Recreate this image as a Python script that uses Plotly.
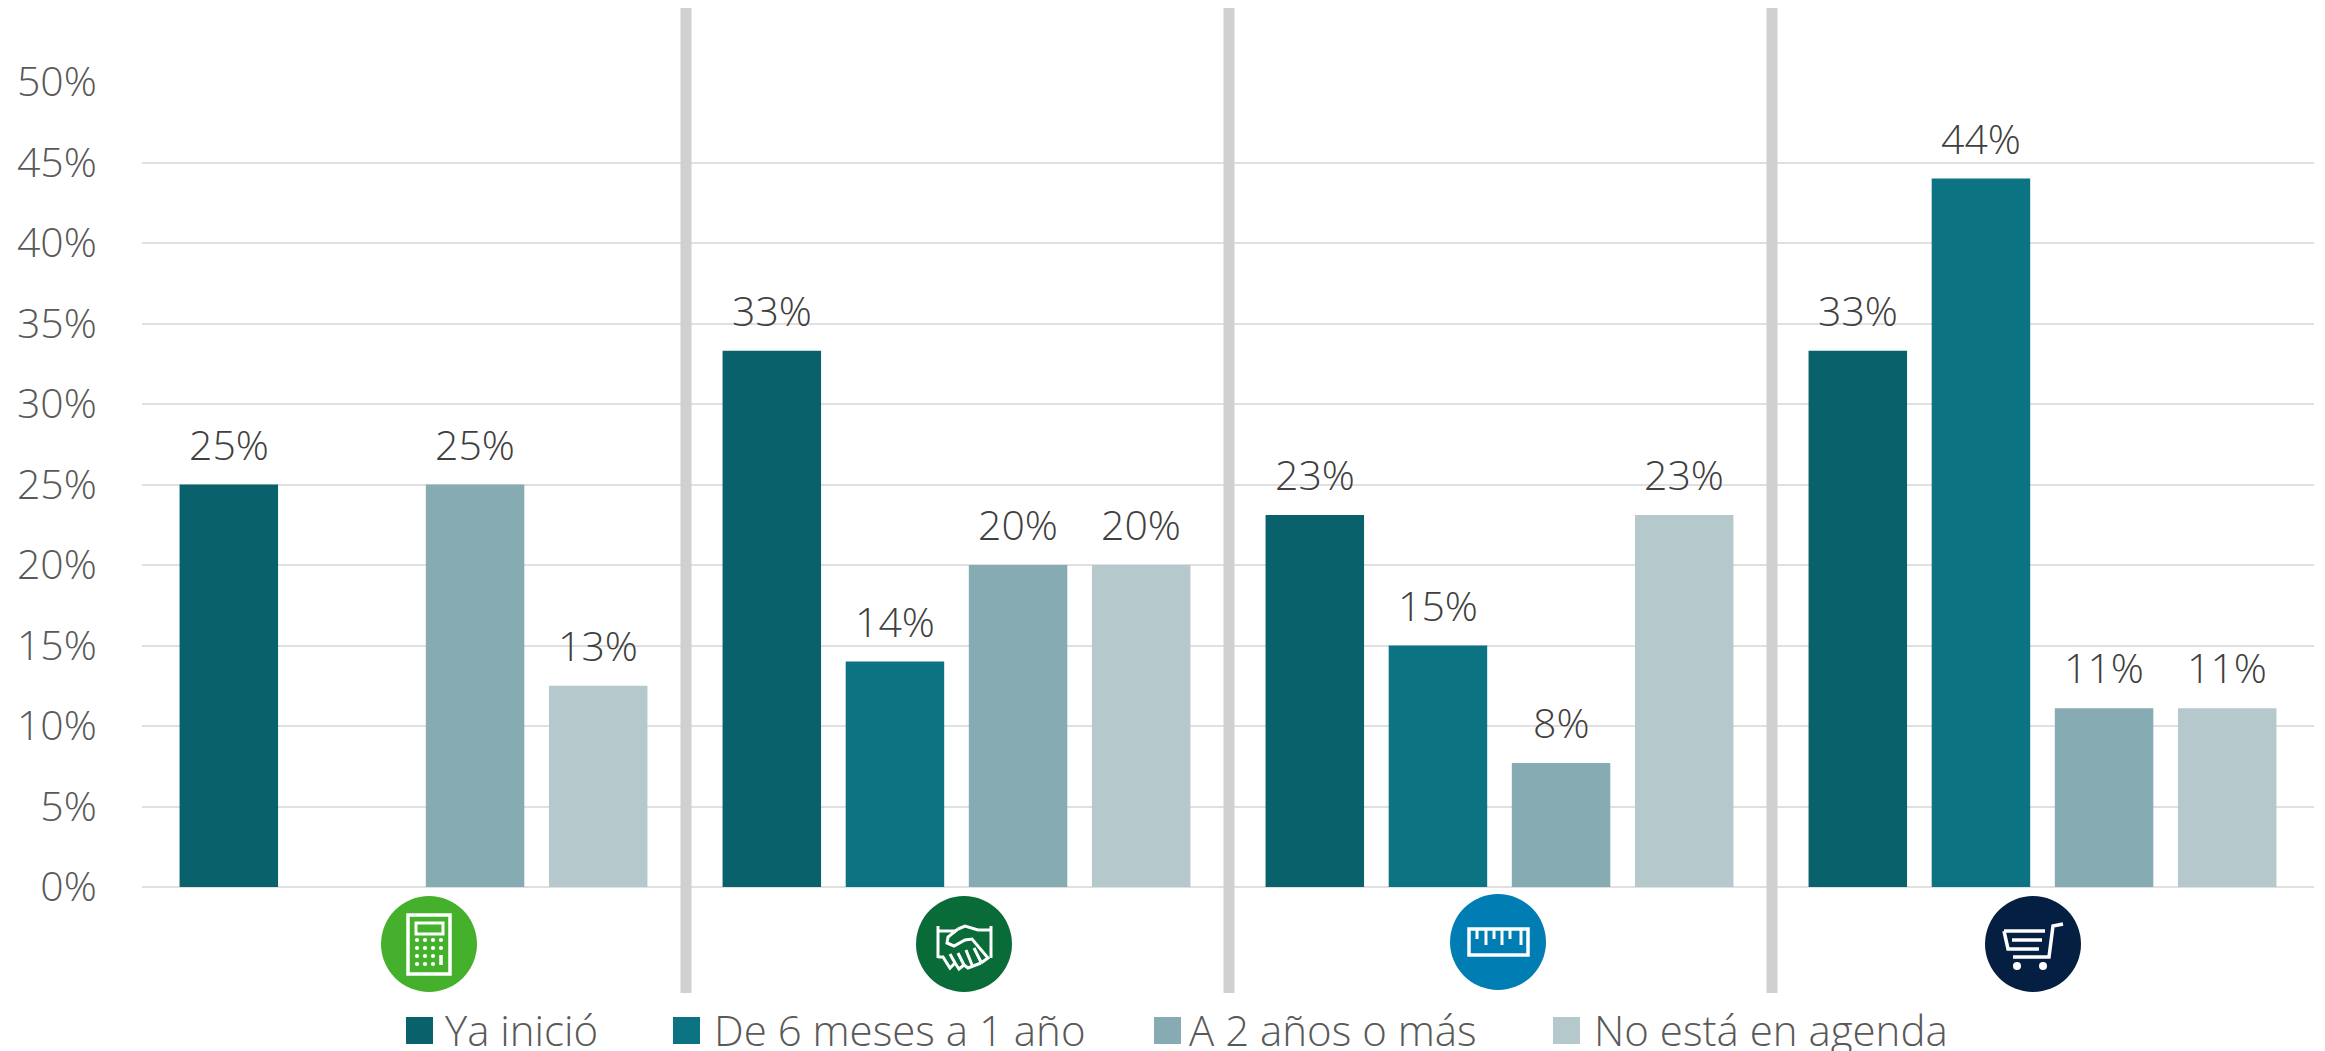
import math
import plotly.graph_objects as go

W, H = 2325, 1051
L, R, T, B = 142, 2314, 82, 887

categories = ["Contabilidad", "Ventas", "Ingeniería", "Compras"]
series_names = ["Ya inició", "De 6 meses a 1 año", "A 2 años o más", "No está en agenda"]
ya_inicio = [25, 33.3, 23.1, 33.3]
seis_meses = [None, 14, 15, 44]
dos_anios = [25, 20, 7.7, 11.1]
no_agenda = [12.5, 20, 23.1, 11.1]
series_values = [ya_inicio, seis_meses, dos_anios, no_agenda]
colors = ["#08616B", "#0C7382", "#86ABB2", "#B5C8CC"]
tick_values = [0, 5, 10, 15, 20, 25, 30, 35, 40, 45, 50]
tick_labels = ["0%", "5%", "10%", "15%", "20%", "25%", "30%", "35%", "40%", "45%", "50%"]

FONT = "Open Sans"
BARGAP = 0.093


def px(x):
    return (x - L) / (R - L)


def py(y):
    return (B - y) / (B - T)


def path(points, cx, cy, close=False):
    s = "M" + " L".join(f"{px(cx + a):.5f},{py(cy + b):.5f}" for a, b in points)
    return s + (" Z" if close else "")


def stroke(points, cx, cy, w=2.6, close=False):
    return dict(type="path", xref="paper", yref="paper", path=path(points, cx, cy, close),
                line=dict(color="white", width=w), layer="above")


def dot(cx, cy, r, color="white"):
    return dict(type="circle", xref="paper", yref="paper", x0=px(cx - r), x1=px(cx + r),
                y0=py(cy + r), y1=py(cy - r), fillcolor=color, line=dict(width=0), layer="above")


def box(x0, x1, y0, y1, color):
    return dict(type="rect", xref="paper", yref="paper", x0=px(x0), x1=px(x1),
                y0=py(y1), y1=py(y0), fillcolor=color, line=dict(width=0), layer="above")


fig = go.Figure()
annotations = []
slot = (1 - BARGAP) / len(series_names)
for i, (name, vals, col) in enumerate(zip(series_names, series_values, colors)):
    fig.add_bar(name=name, x=categories, y=vals, marker=dict(color=col, line=dict(width=0)))
    for g, v in enumerate(vals):
        if v is None:
            continue
        annotations.append(dict(xref="x", yref="y", x=g + (i - 1.5) * slot, y=v,
                                text=f"{math.floor(v + 0.5)}%", showarrow=False,
                                xanchor="center", yanchor="middle", yshift=41,
                                font=dict(family=FONT, size=41, color="#404040", weight=300)))

shapes = []
for x in (686, 1229, 1772):
    shapes.append(box(x - 5.5, x + 5.5, 8, 993, "#D0D0D0"))

# icon discs
cx1, cx2, cx3, cx4 = 429, 964, 1498, 2033
shapes += [dot(cx1, 944, 48, "#45B02C"), dot(cx2, 944, 48, "#096B38"),
           dot(cx3, 942, 48, "#007DB3"), dot(cx4, 944, 48, "#051F42")]

# calculator
shapes.append(stroke([(-21, -29), (21, -29), (21, 30), (-21, 30)], cx1, 944, 3.5, True))
shapes.append(stroke([(-13, -21), (14, -21), (14, -10), (-13, -10)], cx1, 944, 3, True))
for bx in (-12, -4, 4, 12):
    for by in (-4, 4, 12, 20):
        if bx == 12 and by >= 12:
            continue
        shapes.append(dot(cx1 + bx, 944 + by, 2.1))
shapes.append(stroke([(12, 11), (12, 21)], cx1, 944, 3.5))

# handshake
for pts in ([(-26, -18), (-26, 14)], [(27, -18), (27, 14)],
            [(-26, -13), (-8, -13)], [(-6, -15), (1, -18), (14, -14), (27, -14)],
            [(-6, -15), (-16, -7), (-17, -1), (-10, 2), (1, -4), (8, -5), (24, 14), (17, 19)],
            [(-26, 13), (-21, 13), (-14, 24), (-9, 19), (-5, 25), (0, 21), (4, 24), (17, 19)],
            [(-9, 19), (-14, 10)], [(0, 21), (-6, 9)], [(8, 21), (2, 6)], [(17, 18), (10, 4)]):
    shapes.append(stroke(pts, cx2, 944, 3))

# ruler
shapes.append(stroke([(-29, -13), (30, -13), (30, 13), (-29, 13)], cx3, 942, 3.5, True))
for tx, ty in ((-21, -3), (-12, 3), (-4, -3), (4, 3), (12, -3), (23, 3)):
    shapes.append(stroke([(tx, -13), (tx, ty)], cx3, 942, 3))

# cart
for pts in ([(30, -20), (20, -18), (16, 13), (-20, 13)],
            [(-29, -13), (12, -13)], [(-29, -13), (-25, 5), (6, 5)], [(-21, -4), (9, -4)]):
    shapes.append(stroke(pts, cx4, 944, 3.5))
shapes += [dot(cx4 - 16, 966, 4), dot(cx4 + 10, 966, 4)]

# legend
legend_pos = [(406, 445), (673, 714), (1154, 1189), (1553, 1594)]
for (mx, tx), name, col in zip(legend_pos, series_names, colors):
    shapes.append(box(mx, mx + 27, 1017, 1044, col))
    annotations.append(dict(xref="paper", yref="paper", x=px(tx), y=py(1029), text=name, showarrow=False,
                            xanchor="left", yanchor="middle", xshift=-2,
                            font=dict(family=FONT, size=42, color="#595959", weight=300)))

fig.update_layout(
    width=W, height=H, autosize=False, showlegend=False,
    paper_bgcolor="white", plot_bgcolor="white",
    margin=dict(l=L, r=W - R, t=T, b=H - B, pad=0),
    barmode="group", bargap=BARGAP, bargroupgap=0.2,
    shapes=shapes, annotations=annotations,
    xaxis=dict(type="category", showticklabels=False, ticks="", showgrid=False, showline=False, zeroline=False),
    yaxis=dict(range=[0, 50], tickmode="array", tickvals=tick_values, ticktext=tick_labels,
               showgrid=True, gridcolor="#E0E0E0", gridwidth=2, zeroline=True, zerolinecolor="#E0E0E0",
               zerolinewidth=2, showline=False, ticks="outside", ticklen=36, tickcolor="rgba(0,0,0,0)",
               tickfont=dict(family=FONT, size=41, color="#595959", weight=300)),
)
fig.write_html("out.html", config={"displayModeBar": False},
               post_script="document.body.style.margin='0';document.documentElement.style.overflow='hidden';")
